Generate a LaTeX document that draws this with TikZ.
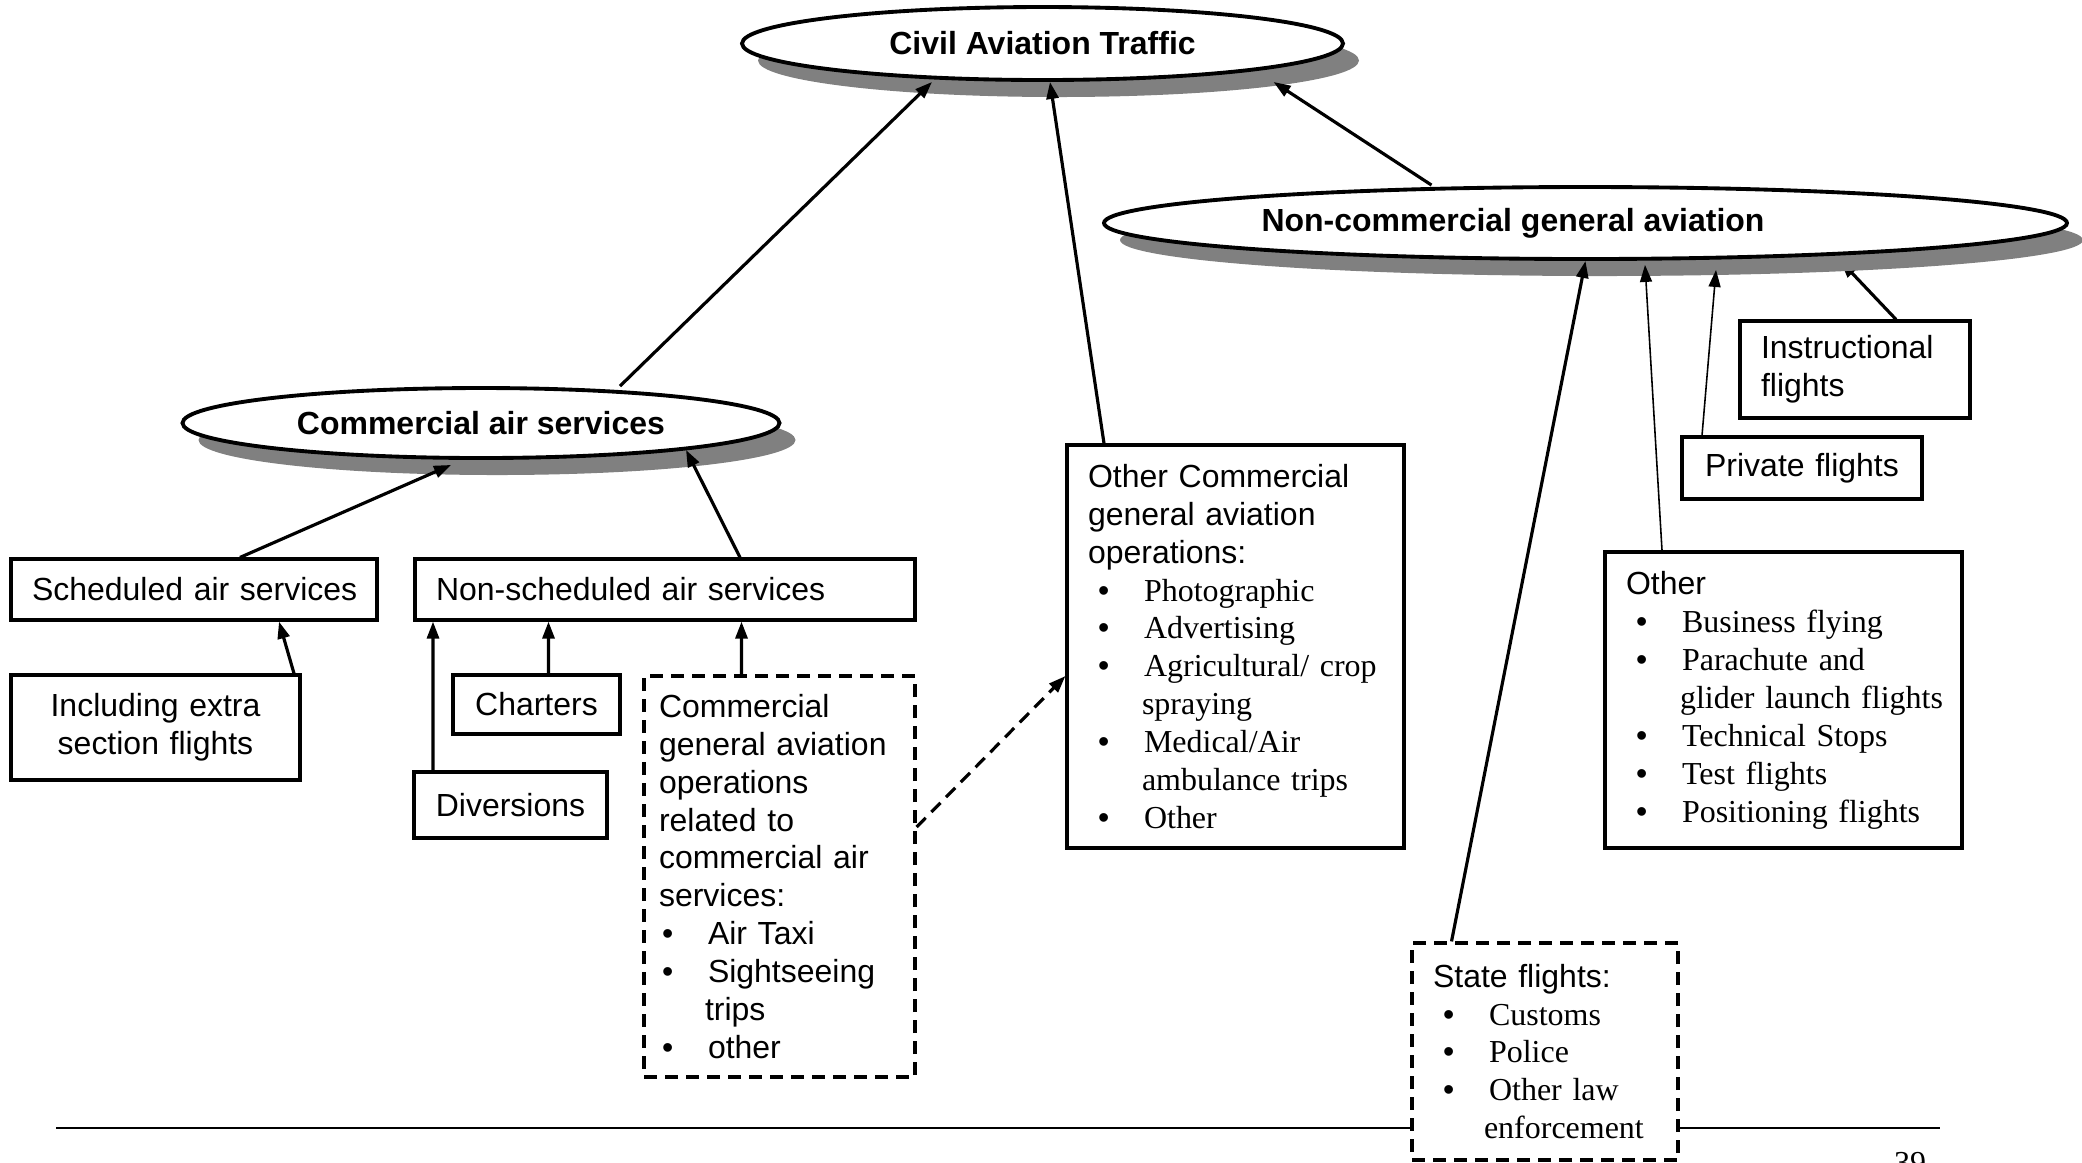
\documentclass[tikz,border=0pt]{standalone}
\usepackage{fontspec}
\setmainfont{Liberation Sans}
\newfontfamily\serifit{Liberation Serif}
\usetikzlibrary{arrows.meta,shapes.geometric,shadows,backgrounds}
\newcommand{\bul}[2][0.1cm]{\hspace*{#1}\makebox[0.46cm][l]{\textbullet}{\serifit\mbox{#2}}}
\newcommand{\sbul}[2][0.03cm]{\hspace*{#1}\makebox[0.46cm][l]{\textbullet}\mbox{#2}}
\newcommand{\cont}[2][0.54cm]{{\serifit\hspace*{#1}\mbox{#2}}}

\begin{document}
\begin{tikzpicture}[
    every node/.style={font=\fontsize{9.1}{10.8}\selectfont},
    oval/.style={
        ellipse,
        draw,
        line width=1.1pt,
        fill=white,
        inner sep=0pt,
        font=\fontsize{9.1}{10.8}\selectfont\bfseries,
        drop shadow={shadow xshift=0.16cm, shadow yshift=-0.17cm, fill=black!50, opacity=1}
    },
    box/.style={
        rectangle,
        draw,
        line width=0.9pt,
        fill=white,
        align=left,
        inner xsep=0.21cm,
        inner ysep=0pt
    },
    dbox/.style={box, dash pattern=on 0.13cm off 0.08cm},
    arr/.style={-{Triangle[length=0.17cm,width=0.12cm]}, line width=0.9pt},
    thinarr/.style={arr, line width=0.45pt}
]
\useasboundingbox (0,0) rectangle (20.82,-11.62);

\node[oval, minimum width=6.01cm, minimum height=0.73cm] (civil) at (10.425,-0.435) {Civil Aviation Traffic};
\node[oval, minimum width=9.63cm, minimum height=0.72cm,
    label={[font=\fontsize{9.1}{10.8}\selectfont\bfseries, xshift=-0.725cm]center:Non-commercial general aviation}]
    (ncga) at (15.855,-2.23) {};
\node[oval, minimum width=5.97cm, minimum height=0.70cm] (cas) at (4.81,-4.23) {Commercial air services};

\node[box, minimum width=3.66cm, minimum height=0.61cm, text width=3.24cm] (sched) at (1.94,-5.895) {\mbox{Scheduled air services}};
\node[box, minimum width=5.00cm, minimum height=0.61cm, text width=4.58cm] (nonsched) at (6.65,-5.895) {Non-scheduled air services};
\node[box, align=center, minimum width=2.89cm, minimum height=1.05cm, text width=2.47cm] (extra) at (1.555,-7.275) {Including extra\\section flights};
\node[box, align=center, minimum width=1.67cm, minimum height=0.59cm, text width=1.25cm] (charters) at (5.365,-7.045) {Charters};
\node[box, align=center, minimum width=1.93cm, minimum height=0.66cm, text width=1.51cm] (divers) at (5.105,-8.05) {Diversions};
\node[dbox, inner xsep=0.15cm, minimum width=2.71cm, minimum height=4.01cm, text width=2.41cm] (cga) at (7.795,-8.765)
    {Commercial\\general aviation\\operations\\related to\\commercial air\\services:\\
     \sbul{Air Taxi}\\\sbul{Sightseeing}\\\hspace*{0.46cm}trips\\\sbul{other}};

\node[box, minimum width=3.37cm, minimum height=4.03cm, text width=2.95cm] (ocga) at (12.355,-6.465)
    {Other Commercial\\general aviation\\operations:\\
     \bul{Photographic}\\\bul{Advertising}\\\bul{Agricultural/ crop}\\\cont{spraying}\\
     \bul{Medical/Air}\\\cont{ambulance trips}\\\bul{Other}};

\node[box, minimum width=2.30cm, minimum height=0.97cm, text width=1.88cm] (instr) at (18.55,-3.695) {Instructional\\flights};
\node[box, align=center, minimum width=2.40cm, minimum height=0.62cm, text width=1.98cm] (priv) at (18.02,-4.68) {Private flights};
\node[box, minimum width=3.57cm, minimum height=2.96cm, text width=3.15cm] (other) at (17.835,-7.00)
    {Other\\\bul{Business flying}\\\bul{Parachute and}\\\cont{glider launch flights}\\
     \bul{Technical Stops}\\\bul{Test flights}\\\bul{Positioning flights}};

\begin{pgfonlayer}{background}
\coordinate (ruleL) at (0.56,-11.28);
\coordinate (ruleR) at (19.40,-11.28);
\draw[line width=0.4pt] (ruleL) -- (ruleR);
\draw[arr] ([xshift=0.41cm]instr.north) -- ([xshift=2.55cm]ncga.south);
\end{pgfonlayer}

\node[dbox, minimum width=2.66cm, minimum height=2.17cm, text width=2.24cm] (state) at (15.45,-10.515)
    {State flights:\\\bul{Customs}\\\bul{Police}\\\bul{Other law}\\\cont[0.51cm]{enforcement}};

\node[font=\fontsize{9.1}{10.8}\selectfont\serifit, inner sep=0pt, anchor=north] (pagenum) at (19.10,-11.52) {39};

\draw[arr] ([xshift=1.39cm]cas.north) -- ([xshift=-1.105cm]civil.south);
\draw[arr] ([xshift=-1.315cm]ocga.north) -- ([xshift=0.075cm]civil.south);
\draw[arr] ([xshift=-1.54cm]ncga.north) -- ([xshift=2.31cm]civil.south);

\draw[arr] ([xshift=0.46cm]sched.north) -- ([xshift=-0.3cm,yshift=-0.05cm]cas.south);
\draw[arr] ([xshift=0.75cm]nonsched.north) -- ([xshift=2.05cm,yshift=0.1cm]cas.south);
\draw[arr] ([xshift=1.385cm]extra.north) -- ([xshift=0.85cm]sched.south);
\draw[arr] ([xshift=-0.775cm]divers.north) -- ([xshift=-2.32cm]nonsched.south);
\draw[arr] ([xshift=0.12cm]charters.north) -- ([xshift=-1.165cm]nonsched.south);
\draw[arr] ([xshift=-0.38cm]cga.north) -- ([xshift=0.765cm]nonsched.south);
\draw[arr, dash pattern=on 0.13cm off 0.08cm] ([yshift=0.495cm]cga.east) -- ([yshift=-0.295cm]ocga.west);

\draw[arr] ([xshift=-0.935cm]state.north) -- (ncga.south);
\draw[thinarr] ([xshift=-1.215cm]other.north) -- ([xshift=0.595cm,yshift=-0.04cm]ncga.south);
\draw[thinarr] ([xshift=-1.0cm]priv.north) -- ([xshift=1.305cm,yshift=-0.09cm]ncga.south);

\end{tikzpicture}
\end{document}
